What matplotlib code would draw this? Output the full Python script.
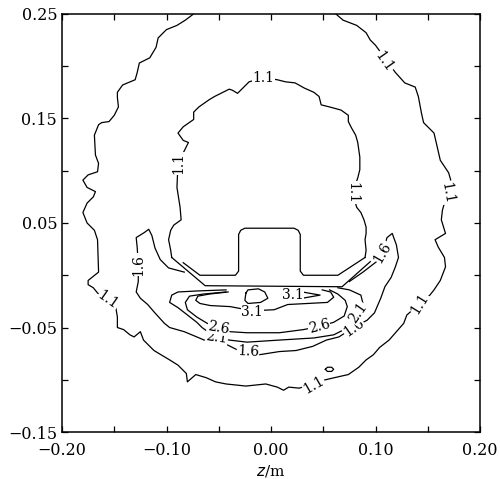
import numpy as np
import matplotlib.pyplot as plt

# contour lines, (z, y) in metres
c11_outer = [(-0.074, 0.25), (-0.082, 0.244), (-0.090, 0.239), (-0.100, 0.235), (-0.108, 0.227),
             (-0.110, 0.218), (-0.116, 0.208), (-0.126, 0.203), (-0.128, 0.194), (-0.130, 0.187),
             (-0.142, 0.182), (-0.147, 0.175), (-0.147, 0.170), (-0.146, 0.161), (-0.150, 0.153),
             (-0.155, 0.147), (-0.162, 0.146), (-0.165, 0.144), (-0.169, 0.134), (-0.168, 0.115),
             (-0.165, 0.107), (-0.166, 0.099), (-0.175, 0.096), (-0.180, 0.091), (-0.176, 0.084),
             (-0.168, 0.080), (-0.170, 0.075), (-0.176, 0.069), (-0.180, 0.060), (-0.176, 0.050),
             (-0.169, 0.043), (-0.166, 0.034), (-0.165, 0.003), (-0.175, -0.005), (-0.175, -0.009),
             (-0.170, -0.012), (-0.166, -0.017), (-0.149, -0.028), (-0.147, -0.040), (-0.147, -0.050),
             (-0.141, -0.052), (-0.135, -0.057), (-0.131, -0.059), (-0.125, -0.054), (-0.122, -0.062),
             (-0.112, -0.072), (-0.097, -0.081), (-0.089, -0.086), (-0.081, -0.094), (-0.080, -0.102),
             (-0.072, -0.095), (-0.062, -0.098), (-0.053, -0.102), (-0.043, -0.104), (-0.024, -0.106),
             (-0.005, -0.104), (0.006, -0.107), (0.012, -0.110), (0.017, -0.107), (0.027, -0.108),
             (0.052, -0.100), (0.065, -0.097), (0.074, -0.095), (0.084, -0.088), (0.091, -0.081),
             (0.098, -0.076), (0.104, -0.069), (0.113, -0.062), (0.127, -0.046), (0.130, -0.038),
             (0.152, -0.019), (0.156, -0.014), (0.162, -0.005), (0.167, 0.008), (0.166, 0.017),
             (0.160, 0.027), (0.157, 0.034), (0.167, 0.040), (0.163, 0.053), (0.164, 0.062),
             (0.172, 0.091), (0.170, 0.098), (0.162, 0.110), (0.159, 0.123), (0.156, 0.136),
             (0.146, 0.146), (0.144, 0.155), (0.141, 0.171), (0.138, 0.180), (0.128, 0.184),
             (0.119, 0.194), (0.100, 0.220), (0.095, 0.225), (0.091, 0.232), (0.082, 0.239),
             (0.069, 0.244), (0.062, 0.25)]

c11_inner = [(-0.095, 0.017), (-0.096, 0.024), (-0.098, 0.034), (-0.096, 0.043), (-0.093, 0.048),
             (-0.086, 0.053), (-0.087, 0.065), (-0.090, 0.084), (-0.089, 0.107), (-0.079, 0.127),
             (-0.084, 0.129), (-0.089, 0.136), (-0.084, 0.142), (-0.074, 0.149), (-0.074, 0.156),
             (-0.069, 0.161), (-0.059, 0.168), (-0.054, 0.171), (-0.040, 0.178), (-0.037, 0.177),
             (-0.032, 0.174), (-0.029, 0.177), (-0.021, 0.185), (-0.007, 0.189), (0.006, 0.187),
             (0.014, 0.185), (0.023, 0.184), (0.032, 0.179), (0.041, 0.175), (0.046, 0.171),
             (0.048, 0.163), (0.056, 0.161), (0.067, 0.158), (0.074, 0.153), (0.074, 0.147),
             (0.077, 0.141), (0.081, 0.134), (0.083, 0.127), (0.084, 0.120), (0.085, 0.113),
             (0.085, 0.101), (0.083, 0.093), (0.078, 0.079), (0.082, 0.065), (0.086, 0.060),
             (0.089, 0.053), (0.091, 0.046), (0.091, 0.040), (0.090, 0.034), (0.091, 0.024),
             (0.090, 0.017)]

c11_loop = [(0.052, -0.090), (0.054, -0.088), (0.058, -0.088), (0.060, -0.090),
            (0.058, -0.092), (0.054, -0.092), (0.052, -0.090)]

c16 = [(-0.083, 0.003), (-0.098, 0.007), (-0.106, 0.015), (-0.111, 0.026), (-0.114, 0.038),
       (-0.117, 0.044), (-0.121, 0.041), (-0.129, 0.036), (-0.128, 0.026), (-0.127, 0.010),
       (-0.127, -0.006), (-0.129, -0.016), (-0.125, -0.022), (-0.118, -0.028), (-0.112, -0.035),
       (-0.102, -0.046), (-0.097, -0.050), (-0.083, -0.054), (-0.071, -0.059), (-0.064, -0.062),
       (-0.045, -0.065), (-0.033, -0.071), (-0.022, -0.073), (-0.011, -0.076), (0.008, -0.073),
       (0.024, -0.072), (0.040, -0.068), (0.053, -0.062), (0.065, -0.059), (0.079, -0.050),
       (0.092, -0.043), (0.099, -0.036), (0.105, -0.022), (0.109, -0.011), (0.115, -0.002),
       (0.119, 0.008), (0.122, 0.017), (0.120, 0.029), (0.116, 0.040), (0.111, 0.036),
       (0.107, 0.022), (0.101, 0.013), (0.088, 0.003), (0.075, -0.006)]

c21 = [(-0.043, -0.014), (-0.070, -0.015), (-0.089, -0.016), (-0.095, -0.019), (-0.097, -0.026),
       (-0.089, -0.031), (-0.080, -0.038), (-0.071, -0.045), (-0.066, -0.050), (-0.052, -0.060),
       (-0.040, -0.062), (-0.023, -0.064), (0.008, -0.062), (0.041, -0.060), (0.060, -0.057),
       (0.070, -0.052), (0.083, -0.036), (0.088, -0.027), (0.086, -0.019), (0.075, -0.014),
       (0.064, -0.012)]

c26 = [(-0.043, -0.016), (-0.065, -0.018), (-0.078, -0.020), (-0.082, -0.026), (-0.080, -0.033),
       (-0.071, -0.040), (-0.061, -0.046), (-0.050, -0.050), (-0.039, -0.054), (-0.023, -0.055),
       (0.008, -0.055), (0.031, -0.052), (0.046, -0.049), (0.060, -0.045), (0.070, -0.039),
       (0.073, -0.030), (0.071, -0.024), (0.064, -0.018), (0.056, -0.014)]

c31 = [(-0.041, -0.016), (-0.059, -0.018), (-0.070, -0.020), (-0.072, -0.024), (-0.068, -0.027),
       (-0.058, -0.029), (-0.039, -0.030), (-0.018, -0.034), (0.003, -0.033), (0.016, -0.028),
       (0.035, -0.027), (0.054, -0.026), (0.060, -0.021), (0.057, -0.016), (0.049, -0.014)]

c31_loop = [(-0.024, -0.017), (-0.022, -0.014), (-0.012, -0.013), (-0.006, -0.016), (-0.003, -0.022),
            (-0.010, -0.026), (-0.022, -0.027), (-0.025, -0.024), (-0.024, -0.017)]

c31_tip = [(0.030, -0.016), (0.047, -0.019), (0.030, -0.022)]

# outline of the hat-shaped part (inner and outer edge)
hat_inner = [(-0.084, 0.012), (-0.068, 0.0), (-0.034, 0.0), (-0.031, 0.004), (-0.031, 0.039),
             (-0.029, 0.043), (-0.025, 0.045), (0.022, 0.045), (0.026, 0.043), (0.028, 0.039),
             (0.028, 0.004), (0.031, 0.0), (0.064, 0.0), (0.090, 0.017)]
hat_outer = [(-0.095, 0.017), (-0.063, -0.010), (0.068, -0.011), (0.095, 0.013)]

# contour labels: text, z, y, angle
labels = [("1.1", -0.007, 0.189, 0), ("1.1", -0.089, 0.107, 90), ("1.1", 0.078, 0.079, -90),
          ("1.1", 0.108, 0.204, -55), ("1.1", 0.169, 0.079, -80), ("1.1", -0.156, -0.024, -35),
          ("1.1", 0.041, -0.105, 30), ("1.1", 0.142, -0.027, 58),
          ("1.6", -0.127, 0.010, 90), ("1.6", -0.022, -0.073, -3), ("1.6", 0.079, -0.050, 35),
          ("1.6", 0.107, 0.022, 60),
          ("2.1", -0.052, -0.060, -8), ("2.1", 0.083, -0.036, 55),
          ("2.6", -0.050, -0.050, -10), ("2.6", 0.046, -0.049, 15),
          ("3.1", -0.018, -0.035, 0), ("3.1", 0.021, -0.019, 0)]

xticks = [-0.20, -0.10, 0.00, 0.10, 0.20]
xticklabels = ["\u22120.20", "\u22120.10", "0.00", "0.10", "0.20"]
yticks = [-0.15, -0.05, 0.05, 0.15, 0.25]
yticklabels = ["\u22120.15", "\u22120.05", "0.05", "0.15", "0.25"]

plt.rcParams['font.family'] = ['DejaVu Serif']

fig = plt.figure(figsize=(5, 4.79), dpi=100)
ax = fig.add_axes([0.124, 0.098, 0.836, 0.873])

for line in [c11_outer, c11_inner, c11_loop, c16, c21, c26, c31, c31_loop, c31_tip,
             hat_inner, hat_outer]:
    xy = np.array(line)
    ax.plot(xy[:, 0], xy[:, 1], color='black', lw=0.9)

for txt, x, y, rot in labels:
    ax.text(x, y, txt, fontsize=10, rotation=rot, ha='center', va='center',
            rotation_mode='anchor',
            bbox=dict(facecolor='white', edgecolor='none', pad=0.3))

ax.set_xlim(-0.2, 0.2)
ax.set_ylim(-0.15, 0.25)
ax.set_xticks(xticks)
ax.set_xticklabels(xticklabels)
ax.set_yticks(yticks)
ax.set_yticklabels(yticklabels)
ax.set_xticks([-0.15, -0.05, 0.05, 0.15], minor=True)
ax.set_yticks([-0.10, 0.0, 0.10, 0.20], minor=True)
ax.tick_params(which='both', direction='in', top=True, right=True, length=4, width=0.9,
               labelsize=11.5)
ax.tick_params(axis='x', pad=7)
for s in ax.spines.values():
    s.set_linewidth(1.1)

ax.set_xlabel("$z$/m", fontsize=11, labelpad=3)

fig.savefig("out.png", dpi=100)
